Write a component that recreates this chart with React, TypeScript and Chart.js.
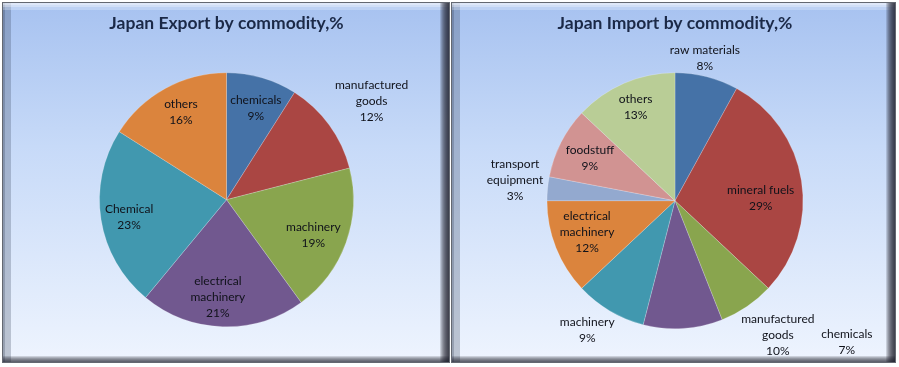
import React, { useEffect, useRef } from "react";
import { Chart, registerables } from "chart.js";

Chart.register(...registerables);

// ---------- data ----------
const exportLabels = ["chemicals", "manufactured\ngoods", "machinery", "electrical\nmachinery", "Chemical", "others"];
const exportValues = [9, 12, 19, 21, 23, 16];

const importLabels = [
  "raw materials",
  "mineral fuels",
  "chemicals",
  "manufactured\ngoods",
  "machinery",
  "electrical\nmachinery",
  "transport\nequipment",
  "foodstuff",
  "others",
];
const importValues = [8, 29, 7, 10, 9, 12, 3, 9, 13];

const exportTitle = "Japan Export by commodity,%";
const importTitle = "Japan Import by commodity,%";

// ---------- styles ----------
const exportColors = ["#4572A7", "#AA4643", "#89A54E", "#71588F", "#4198AF", "#DB843D"];
const importColors = ["#4572A7", "#AA4643", "#89A54E", "#71588F", "#4198AF", "#DB843D", "#93A9CF", "#D19392", "#B9CD96"];

// label placement: [angle offset (deg) from slice middle, radius factor]
const exportPlacement: [number, number][] = [
  [1.6, 0.755],
  [1.9, 1.38],
  [2.6, 0.74],
  [3.3, 0.77],
  [-1.4, 0.78],
  [1.4, 0.78],
];
const importPlacement: [number, number][] = [
  [-2.6, 1.14],
  [7, 0.67],
  [-16.3, 1.74],
  [-33.9, 1.32],
  [3.6, 1.22],
  [1.9, 0.73],
  [1.8, 1.26],
  [-0.2, 0.745],
  [0.5, 0.79],
];

const FONT = "Lato, 'Open Sans', sans-serif";

function makeLabelPlugin(placement: [number, number][]) {
  return {
    id: "sliceLabels",
    afterDatasetsDraw(chart: any) {
      const ctx = chart.ctx as CanvasRenderingContext2D;
      const meta = chart.getDatasetMeta(0);
      const ds = chart.data.datasets[0];
      const labels = chart.data.labels as string[];
      ctx.save();
      ctx.font = `12px ${FONT}`;
      ctx.fillStyle = "#10121a";
      ctx.textAlign = "center";
      ctx.textBaseline = "middle";
      const lh = 16;
      meta.data.forEach((arc: any, i: number) => {
        const p = arc.getProps(["x", "y", "startAngle", "endAngle", "outerRadius"], true);
        const [offDeg, fac] = placement[i] || [0, 0.75];
        const a = (p.startAngle + p.endAngle) / 2 + (offDeg * Math.PI) / 180;
        const r = p.outerRadius * fac;
        const cx = p.x + r * Math.cos(a);
        const cy = p.y + r * Math.sin(a);
        const lines = String(labels[i]).split("\n").concat([`${ds.data[i]}%`]);
        const y0 = cy - ((lines.length - 1) * lh) / 2;
        lines.forEach((t, k) => ctx.fillText(t, cx, y0 + k * lh));
      });
      ctx.restore();
    },
  };
}

interface PieProps {
  labels: string[];
  values: number[];
  colors: string[];
  title: string;
  placement: [number, number][];
  width: number;
  height: number;
  titleBottom: number;
  padBottom: number;
  padLeft: number;
}

function PieCanvas(props: PieProps) {
  const ref = useRef<HTMLCanvasElement | null>(null);
  useEffect(() => {
    if (!ref.current) return;
    const chart = new Chart(ref.current, {
      type: "pie",
      data: {
        labels: props.labels,
        datasets: [
          {
            data: props.values,
            backgroundColor: props.colors,
            borderColor: "rgba(255,255,255,0.35)",
            borderWidth: 0.6,
            hoverOffset: 0,
            offset: 0,
          },
        ],
      },
      options: {
        animation: false,
        responsive: false,
        maintainAspectRatio: false,
        events: [],
        layout: { padding: { top: 0, bottom: props.padBottom, left: props.padLeft, right: 0 } },
        plugins: {
          legend: { display: false },
          tooltip: { enabled: false },
          title: {
            display: true,
            text: props.title,
            color: "#1b2947",
            font: { family: FONT, size: 17.5, weight: "bold", lineHeight: 1.2 },
            padding: { top: 11, bottom: props.titleBottom },
          },
        },
      },
      plugins: [makeLabelPlugin(props.placement)],
    } as any);
    return () => chart.destroy();
  }, []);
  return <canvas ref={ref} width={props.width} height={props.height} style={{ display: "block" }} />;
}

const shade = "rgba(28,32,44,0.17)";
const bevelShadow = [
  ...[1, 2, 3, 4, 5, 6, 7, 8, 9].map((n) => `inset -${n}px 0 0 ${shade}`),
  ...[1, 2, 3, 4, 5, 6].map((n) => `inset 0 -${n}px 0 ${shade}`),
  "inset 0 2px 0 rgba(255,255,255,0.3)",
  "inset 0 4px 0 rgba(255,255,255,0.3)",
  "inset 0 7px 0 rgba(255,255,255,0.25)",
  "inset 2px 0 0 rgba(45,55,80,0.25)",
  "inset 8px 0 0 rgba(45,55,80,0.25)",
].join(", ");

function Panel({ left, width }: { left: number; width: number }) {
  return (
    <div
      style={{
        position: "absolute",
        left,
        top: 2,
        width,
        height: 361,
        boxSizing: "border-box",
        border: "1px solid #646871",
        background: "linear-gradient(to bottom, #a7c2f0 0%, #c7daf8 40%, #eef4fe 100%)",
        boxShadow: bevelShadow,
      }}
    />
  );
}

export default function App() {
  return (
    <div style={{ position: "absolute", left: 0, top: 0, width: 899, height: 367, background: "#ffffff", overflow: "hidden" }}>
      <Panel left={2} width={448} />
      <Panel left={451} width={445} />
      <div style={{ position: "absolute", left: 2, top: 2 }}>
        <PieCanvas
          labels={exportLabels}
          values={exportValues}
          colors={exportColors}
          title={exportTitle}
          placement={exportPlacement}
          width={448}
          height={361}
          titleBottom={38.4}
          padBottom={36}
          padLeft={1}
        />
      </div>
      <div style={{ position: "absolute", left: 451, top: 2 }}>
        <PieCanvas
          labels={importLabels}
          values={importValues}
          colors={importColors}
          title={importTitle}
          placement={importPlacement}
          width={445}
          height={361}
          titleBottom={38.4}
          padBottom={34}
          padLeft={3}
        />
      </div>
    </div>
  );
}
